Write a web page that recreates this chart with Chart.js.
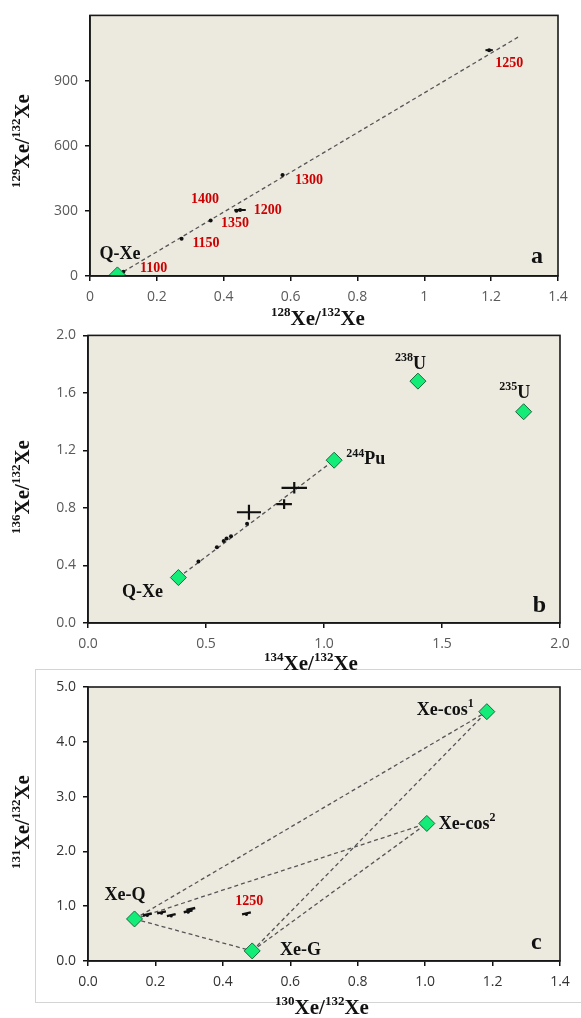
<!DOCTYPE html>
<html>
<head>
<meta charset="utf-8">
<script src="https://cdn.jsdelivr.net/npm/chart.js@4/dist/chart.umd.min.js"></script>
<style>
  body { margin: 0; background: #fff; width: 581px; height: 1018px; overflow: hidden; position: relative; }
  canvas { position: absolute; left: 0; }
  #frameC { position: absolute; left: 35px; top: 669px; width: 546px; height: 332px; border: 1px solid #d4d4d4; border-right: none; }
</style>
</head>
<body>
<div id="frameC"></div>
<canvas id="chartA" width="581" height="340" style="top:0px"></canvas>
<canvas id="chartB" width="581" height="360" style="top:320px"></canvas>
<canvas id="chartC" width="581" height="358" style="top:660px"></canvas>
<script>
// ---- panel a : 129Xe/132Xe vs 128Xe/132Xe ----
var aStepX = [0.100, 0.274, 0.449, 1.194, 0.576, 0.361, 0.438];
var aStepY = [20, 172, 304, 1040, 465, 255, 300];
var aStepXErr = [0, 0, 0.017, 0.011, 0.005, 0, 0];
var aQX = [0.082];
var aQY = [5];
var aFitX = [0.10, 1.284];
var aFitY = [20, 1103];
var aYTicks = [0, 300, 600, 900];
var aLabText = ['1100', '1150', '1200', '1250', '1300', '1350', '1400', 'Q-Xe', 'a'];
var aLabX = [0.19, 0.347, 0.532, 1.254, 0.655, 0.434, 0.344, 0.09, 1.337];
var aLabY = [36, 150, 301, 977, 442, 241, 351, 100, 88];

// ---- panel b : 136Xe/132Xe vs 134Xe/132Xe ----
var bEndName = ['Q-Xe', '^244^Pu', '^238^U', '^235^U'];
var bEndX = [0.383, 1.043, 1.398, 1.846];
var bEndY = [0.316, 1.132, 1.682, 1.469];
var bDotX = [0.468, 0.546, 0.575, 0.587, 0.606, 0.674];
var bDotY = [0.427, 0.527, 0.571, 0.587, 0.603, 0.691];
var bCrossX = [0.682, 0.874, 0.831];
var bCrossY = [0.770, 0.940, 0.826];
var bCrossXErr = [0.051, 0.054, 0.033];
var bCrossYErr = [0.052, 0.040, 0.034];
var bLabText = ['Q-Xe', '^244^Pu', '^238^U', '^235^U', 'b'];
var bLabX = [0.231, 1.094, 1.367, 1.808, 1.913];
var bLabY = [0.216, 1.137, 1.80, 1.60, 0.123];

// ---- panel c : 131Xe/132Xe vs 130Xe/132Xe ----
var cEndName = ['Xe-Q', 'Xe-G', 'Xe-cos^1^', 'Xe-cos^2^'];
var cEndX = [0.138, 0.487, 1.183, 1.005];
var cEndY = [0.767, 0.184, 4.55, 2.51];
var cLinkFrom = [0, 0, 0, 1, 1];
var cLinkTo = [2, 3, 1, 2, 3];
var cDashX = [0.176, 0.218, 0.247, 0.297, 0.305, 0.47];
var cDashY = [0.83, 0.87, 0.82, 0.89, 0.93, 0.85];
var cLabText = ['Xe-Q', 'Xe-G', 'Xe-cos^1^', 'Xe-cos^2^', '1250', 'c'];
var cLabX = [0.11, 0.63, 1.144, 1.04, 0.478, 1.33];
var cLabY = [1.2, 0.19, 4.58, 2.50, 1.08, 0.34];

var RED = '#cc0000';
var SERIF = '"Liberation Serif", "Times New Roman", serif';

function pts(xs, ys) {
  return xs.map(function (x, i) { return { x: x, y: ys[i] }; });
}

// text with ^superscript^ parts
function drawRich(ctx, s, x, y, size, color, align, rotate) {
  var parts = [];
  s.split('^').forEach(function (t, i) { if (t) parts.push({ t: t, sup: i % 2 === 1 }); });
  var big = 'bold ' + size + 'px ' + SERIF;
  var small = 'bold ' + Math.round(size * 0.64) + 'px ' + SERIF;
  var w = 0;
  parts.forEach(function (p) { ctx.font = p.sup ? small : big; p.w = ctx.measureText(p.t).width; w += p.w; });
  ctx.save();
  ctx.translate(x, y);
  if (rotate) ctx.rotate(-Math.PI / 2);
  var cx = align === 'left' ? 0 : align === 'right' ? -w : -w / 2;
  ctx.fillStyle = color;
  ctx.textBaseline = 'middle';
  ctx.textAlign = 'left';
  parts.forEach(function (p) {
    ctx.font = p.sup ? small : big;
    ctx.fillText(p.t, cx, p.sup ? -size * 0.33 : 0);
    cx += p.w;
  });
  ctx.restore();
}

function overlay(spec) {
  return {
    id: 'overlay',
    beforeDraw: function (chart) {
      var a = chart.chartArea, ctx = chart.ctx;
      ctx.save();
      ctx.fillStyle = '#ECE9DF';
      ctx.fillRect(a.left, a.top, a.right - a.left, a.bottom - a.top);
      ctx.restore();
    },
    afterDatasetsDraw: function (chart) {
      var ctx = chart.ctx, xs = chart.scales.x, ys = chart.scales.y;
      ctx.save();
      ctx.strokeStyle = '#111';
      (spec.bars || []).forEach(function (b) {
        ctx.lineWidth = b.w;
        b.x.forEach(function (x, i) {
          var px = xs.getPixelForValue(x), py = ys.getPixelForValue(b.y[i]);
          var ex = b.xe[i] || 0, ey = (b.ye && b.ye[i]) || 0;
          ctx.beginPath();
          if (ex) {
            ctx.moveTo(xs.getPixelForValue(x - ex), py);
            ctx.lineTo(xs.getPixelForValue(x + ex), py + (b.tilt || 0));
          }
          if (ey) {
            ctx.moveTo(px, ys.getPixelForValue(b.y[i] - ey));
            ctx.lineTo(px, ys.getPixelForValue(b.y[i] + ey));
          }
          ctx.stroke();
        });
      });
      ctx.restore();
      spec.labels.text.forEach(function (t, i) {
        var px = xs.getPixelForValue(spec.labels.x[i]);
        var py = ys.getPixelForValue(spec.labels.y[i]);
        var st = spec.labels.style[i];
        drawRich(chart.ctx, t, px, py, st.size, st.color, st.align || 'center');
      });
    },
    afterDraw: function (chart) {
      var a = chart.chartArea, ctx = chart.ctx;
      ctx.save();
      ctx.strokeStyle = '#1a1a1a';
      ctx.lineWidth = 1.6;
      ctx.strokeRect(a.left, a.top, a.right - a.left, a.bottom - a.top);
      ctx.restore();
      drawRich(ctx, spec.xTitle, spec.xTitlePos[0], spec.xTitlePos[1], 21, '#111', 'center');
      drawRich(ctx, spec.yTitle, spec.yTitlePos[0], spec.yTitlePos[1], 21, '#111', 'center', true);
    }
  };
}

function axis(min, max, step, yw, xh, isY, fmt, tickColor) {
  var o = {
    type: 'linear', min: min, max: max,
    grid: { display: true, drawOnChartArea: false, drawTicks: true, tickLength: 5, color: '#111', lineWidth: 1.5 },
    border: { display: true, color: '#111', width: 1.6 },
    ticks: {
      stepSize: step, padding: isY ? 7 : 8, color: tickColor,
      font: { family: '"Open Sans", "Liberation Sans", sans-serif', size: 14 },
      callback: fmt
    }
  };
  if (isY) o.afterFit = function (s) { s.width = yw; };
  else o.afterFit = function (s) { s.height = xh; };
  return o;
}

function base(datasets, pad, scales, plugin) {
  return {
    type: 'scatter',
    data: { datasets: datasets },
    options: {
      responsive: false, animation: false, devicePixelRatio: 1,
      layout: { padding: pad },
      plugins: { legend: { display: false }, tooltip: { enabled: false } },
      scales: scales
    },
    plugins: [plugin]
  };
}

function diamonds(xs, ys) {
  return {
    data: pts(xs, ys), pointStyle: 'rectRot', pointRadius: 8,
    backgroundColor: '#14ec78', borderColor: '#17693a', borderWidth: 1, order: 0
  };
}
function dashed(xs, ys) {
  return {
    type: 'line', data: pts(xs, ys), showLine: true, pointRadius: 0,
    borderColor: '#555', borderWidth: 1.3, borderDash: [4, 3], order: 2
  };
}
function dots(xs, ys, r) {
  return { data: pts(xs, ys), pointRadius: r, backgroundColor: '#111', borderColor: '#111', borderWidth: 0, order: 1 };
}

var trim = function (v) { return String(+v.toFixed(2)); };
var one = function (v) { return v.toFixed(1); };

// panel a
var yA = axis(0, 1200, 300, 90, 0, true, trim, '#595959');
yA.afterBuildTicks = function (s) { s.ticks = aYTicks.map(function (v) { return { value: v }; }); };
new Chart(document.getElementById('chartA'), base(
  [dashed(aFitX, aFitY), dots(aStepX, aStepY, 2), diamonds(aQX, aQY)],
  { top: 13, right: 23, left: 0, bottom: 0 },
  { x: axis(0, 1.4, 0.2, 0, 64, false, trim, '#595959'), y: yA },
  overlay({
    bars: [{ x: aStepX, y: aStepY, xe: aStepXErr, w: 2 }],
    labels: {
      text: aLabText, x: aLabX, y: aLabY,
      style: aLabText.map(function (t) {
        if (t === 'a') return { size: 24, color: '#111' };
        if (t === 'Q-Xe') return { size: 18, color: '#111' };
        return { size: 14, color: RED };
      })
    },
    xTitle: '^128^Xe/^132^Xe', xTitlePos: [318, 320],
    yTitle: '^129^Xe/^132^Xe', yTitlePos: [24, 141]
  })
));

// panel b
new Chart(document.getElementById('chartB'), base(
  [dashed([bEndX[0], bEndX[1]], [bEndY[0], bEndY[1]]), dots(bDotX, bDotY, 2), diamonds(bEndX, bEndY)],
  { top: 15, right: 21, left: 0, bottom: 0 },
  { x: axis(0, 2, 0.5, 0, 57, false, one, '#595959'), y: axis(0, 2, 0.4, 88, 0, true, one, '#595959') },
  overlay({
    bars: [{ x: bCrossX, y: bCrossY, xe: bCrossXErr, ye: bCrossYErr, w: 2.2 }],
    labels: {
      text: bLabText, x: bLabX, y: bLabY,
      style: bLabText.map(function (t) {
        if (t === 'b') return { size: 24, color: '#111' };
        if (t === '^244^Pu') return { size: 18, color: '#111', align: 'left' };
        return { size: 18, color: '#111' };
      })
    },
    xTitle: '^134^Xe/^132^Xe', xTitlePos: [311, 345],
    yTitle: '^136^Xe/^132^Xe', yTitlePos: [24, 167]
  })
));

// panel c
var cLines = cLinkFrom.map(function (f, i) {
  var t = cLinkTo[i];
  return dashed([cEndX[f], cEndX[t]], [cEndY[f], cEndY[t]]);
});
new Chart(document.getElementById('chartC'), base(
  cLines.concat([dots(cDashX, cDashY, 1.5), diamonds(cEndX, cEndY)]),
  { top: 27, right: 21, left: 0, bottom: 0 },
  { x: axis(0, 1.4, 0.2, 0, 57, false, one, '#333'), y: axis(0, 5, 1, 88, 0, true, one, '#333') },
  overlay({
    bars: [{ x: cDashX, y: cDashY, xe: cDashX.map(function () { return 0.013; }), w: 2.4, tilt: -2 }],
    labels: {
      text: cLabText, x: cLabX, y: cLabY,
      style: cLabText.map(function (t) {
        if (t === 'c') return { size: 24, color: '#111' };
        if (t === '1250') return { size: 14, color: RED };
        if (t === 'Xe-cos^1^') return { size: 18, color: '#111', align: 'right' };
        if (t === 'Xe-cos^2^') return { size: 18, color: '#111', align: 'left' };
        return { size: 18, color: '#111' };
      })
    },
    xTitle: '^130^Xe/^132^Xe', xTitlePos: [322, 349],
    yTitle: '^131^Xe/^132^Xe', yTitlePos: [24, 162]
  })
));
</script>
</body>
</html>
